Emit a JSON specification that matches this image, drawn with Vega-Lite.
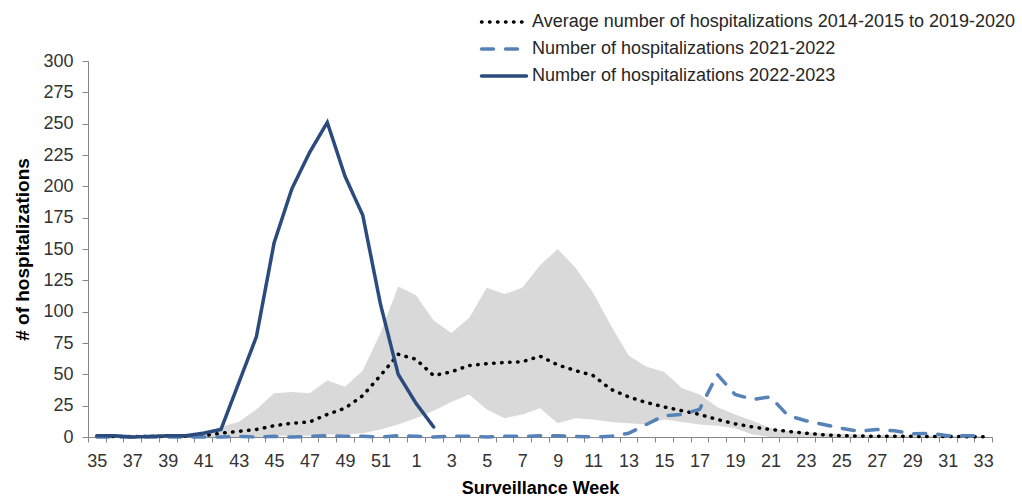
{
  "$schema": "https://vega.github.io/schema/vega-lite/v6.json",
  "width": 904,
  "height": 376,
  "autosize": {"type": "none"},
  "padding": {"left": 88, "top": 61, "right": 30, "bottom": 60},
  "background": "white",
  "config": {
    "view": {"stroke": null},
    "font": "Liberation Sans",
    "axisY": {
      "values": [0,25,50,75,100,125,150,175,200,225,250,275,300],
      "labelOverlap": false,
      "labelFontSize": 18,
      "labelColor": "#333333",
      "labelPadding": 9,
      "tickSize": 6,
      "tickColor": "#868686",
      "domainColor": "#868686",
      "grid": false
    }
  },
  "data": {"values": [
    {"week": 35, "lo": 0, "hi": 1, "avg": 0.3, "s2122": 0, "s2223": 1},
    {"week": 36, "lo": 0, "hi": 1, "avg": 0.3, "s2122": 0, "s2223": 1},
    {"week": 37, "lo": 0, "hi": 1, "avg": 0.3, "s2122": 0, "s2223": 0},
    {"week": 38, "lo": 0, "hi": 1, "avg": 0.3, "s2122": 0, "s2223": 0.5},
    {"week": 39, "lo": 0, "hi": 1, "avg": 0.5, "s2122": 0, "s2223": 1},
    {"week": 40, "lo": 0, "hi": 2, "avg": 0.5, "s2122": 0, "s2223": 1},
    {"week": 41, "lo": 0, "hi": 3, "avg": 1, "s2122": 0, "s2223": 3},
    {"week": 42, "lo": 0, "hi": 8, "avg": 3, "s2122": 0, "s2223": 6},
    {"week": 43, "lo": 0, "hi": 12, "avg": 4.5, "s2122": 0.5, "s2223": 43},
    {"week": 44, "lo": 0, "hi": 22, "avg": 6, "s2122": 0, "s2223": 80},
    {"week": 45, "lo": 1, "hi": 35, "avg": 9, "s2122": 0.5, "s2223": 155},
    {"week": 46, "lo": 1, "hi": 36, "avg": 11, "s2122": 0, "s2223": 198},
    {"week": 47, "lo": 1, "hi": 35, "avg": 12, "s2122": 0.5, "s2223": 227},
    {"week": 48, "lo": 2, "hi": 45, "avg": 18, "s2122": 1, "s2223": 251},
    {"week": 49, "lo": 2, "hi": 40, "avg": 23, "s2122": 0.5, "s2223": 208},
    {"week": 50, "lo": 3, "hi": 53, "avg": 33, "s2122": 0.5, "s2223": 177},
    {"week": 51, "lo": 6, "hi": 83, "avg": 49, "s2122": 0, "s2223": 106},
    {"week": 52, "lo": 10, "hi": 120, "avg": 66, "s2122": 1, "s2223": 50},
    {"week": 1, "lo": 15, "hi": 113, "avg": 62, "s2122": 0.5, "s2223": 27},
    {"week": 2, "lo": 21, "hi": 93, "avg": 49, "s2122": 0, "s2223": 8},
    {"week": 3, "lo": 28, "hi": 83, "avg": 52, "s2122": 0.5, "s2223": null},
    {"week": 4, "lo": 34, "hi": 95, "avg": 57, "s2122": 0.5, "s2223": null},
    {"week": 5, "lo": 22, "hi": 119, "avg": 58.5, "s2122": 0, "s2223": null},
    {"week": 6, "lo": 15, "hi": 114, "avg": 59.5, "s2122": 0.5, "s2223": null},
    {"week": 7, "lo": 18, "hi": 119, "avg": 60, "s2122": 0.5, "s2223": null},
    {"week": 8, "lo": 23, "hi": 137, "avg": 64.5, "s2122": 1, "s2223": null},
    {"week": 9, "lo": 11, "hi": 150, "avg": 57.5, "s2122": 1, "s2223": null},
    {"week": 10, "lo": 15, "hi": 135, "avg": 53, "s2122": 0.5, "s2223": null},
    {"week": 11, "lo": 14, "hi": 115, "avg": 49, "s2122": 0, "s2223": null},
    {"week": 12, "lo": 12, "hi": 89, "avg": 38, "s2122": 0.5, "s2223": null},
    {"week": 13, "lo": 11, "hi": 65, "avg": 32, "s2122": 3, "s2223": null},
    {"week": 14, "lo": 10, "hi": 56, "avg": 27.5, "s2122": 10, "s2223": null},
    {"week": 15, "lo": 14, "hi": 52, "avg": 24, "s2122": 17, "s2223": null},
    {"week": 16, "lo": 12, "hi": 39, "avg": 21, "s2122": 18, "s2223": null},
    {"week": 17, "lo": 10, "hi": 34, "avg": 18, "s2122": 22, "s2223": null},
    {"week": 18, "lo": 9, "hi": 24, "avg": 14, "s2122": 50, "s2223": null},
    {"week": 19, "lo": 7, "hi": 18, "avg": 10.5, "s2122": 34, "s2223": null},
    {"week": 20, "lo": 2, "hi": 13, "avg": 8, "s2122": 30, "s2223": null},
    {"week": 21, "lo": 0, "hi": 7, "avg": 6, "s2122": 32, "s2223": null},
    {"week": 22, "lo": 0, "hi": 5, "avg": 4.5, "s2122": 17, "s2223": null},
    {"week": 23, "lo": 0, "hi": 4, "avg": 3, "s2122": 13, "s2223": null},
    {"week": 24, "lo": 0, "hi": 3, "avg": 1.8, "s2122": 10, "s2223": null},
    {"week": 25, "lo": 0, "hi": 2.5, "avg": 1, "s2122": 7, "s2223": null},
    {"week": 26, "lo": 0, "hi": 2, "avg": 0.8, "s2122": 4.5, "s2223": null},
    {"week": 27, "lo": 0, "hi": 1.5, "avg": 0.6, "s2122": 6, "s2223": null},
    {"week": 28, "lo": 0, "hi": 1.5, "avg": 0.5, "s2122": 5, "s2223": null},
    {"week": 29, "lo": 0, "hi": 1, "avg": 0.5, "s2122": 2.5, "s2223": null},
    {"week": 30, "lo": 0, "hi": 1, "avg": 0.3, "s2122": 3, "s2223": null},
    {"week": 31, "lo": 0, "hi": 1, "avg": 0.3, "s2122": 1, "s2223": null},
    {"week": 32, "lo": 0, "hi": 1, "avg": 0.3, "s2122": 1, "s2223": null},
    {"week": 33, "lo": 0, "hi": 0.5, "avg": 0.2, "s2122": 1, "s2223": null}
  ]},
  "encoding": {
    "x": {
      "field": "week",
      "type": "ordinal",
      "sort": [35,36,37,38,39,40,41,42,43,44,45,46,47,48,49,50,51,52,1,2,3,4,5,6,7,8,9,10,11,12,13,14,15,16,17,18,19,20,21,22,23,24,25,26,27,28,29,30,31,32,33],
      "scale": {"type": "band", "paddingInner": 0, "paddingOuter": 0},
      "axis": {
        "title": "Surveillance Week",
        "titleFontSize": 18,
        "titleFontWeight": "bold",
        "titleColor": "#000000",
        "titleY": 51,
        "titleBaseline": "middle",
        "labelExpr": "datum.value % 2 == 1 ? datum.label : ''",
        "labelAngle": 0,
        "labelFontSize": 18,
        "labelColor": "#333333",
        "labelPadding": 10,
        "labelOverlap": false,
        "tickSize": 5,
        "tickColor": "#868686",
        "domainColor": "#868686",
        "tickBand": "extent",
        "grid": false
      }
    }
  },
  "layer": [
    {
      "mark": {"type": "area", "color": "#d9d9d9"},
      "encoding": {
        "y": {
          "field": "hi",
          "type": "quantitative",
          "scale": {"domain": [0, 300]},
          "axis": {
            "values": [0,25,50,75,100,125,150,175,200,225,250,275,300],
            "labelOverlap": false,
            "title": "# of hospitalizations",
            "titleFontSize": 19,
            "titleFontWeight": "bold",
            "titleColor": "#000000",
            "titleX": -66,
            "titleY": 188,
            "titleBaseline": "middle"
          }
        },
        "y2": {"field": "lo"}
      }
    },
    {
      "transform": [{"fold": ["avg", "s2122", "s2223"], "as": ["series", "value"]}],
      "mark": {"type": "line", "strokeCap": "round", "strokeWidth": 3.5},
      "encoding": {
        "y": {
          "field": "value",
          "type": "quantitative",
          "axis": {
            "values": [0,25,50,75,100,125,150,175,200,225,250,275,300],
            "labelOverlap": false,
            "title": "# of hospitalizations",
            "titleFontSize": 19,
            "titleFontWeight": "bold",
            "titleColor": "#000000",
            "titleX": -66,
            "titleY": 188,
            "titleBaseline": "middle"
          }
        },
        "color": {
          "field": "series",
          "type": "nominal",
          "scale": {"domain": ["avg", "s2122", "s2223"], "range": ["#000000", "#5682b8", "#2a4b7c"]},
          "legend": {
            "title": null,
            "orient": "none",
            "legendX": 403,
            "legendY": -52,
            "symbolType": "M-2,0H2",
            "symbolSize": 506,
            "symbolStrokeWidth": 3.5,
            "symbolFillColor": "transparent",
            "labelFontSize": 18,
            "labelColor": "#262626",
            "labelOffset": 15,
            "rowPadding": 5,
            "labelLimit": 700,
            "labelExpr": "datum.label == 'avg' ? 'Average number of hospitalizations 2014-2015 to 2019-2020' : datum.label == 's2122' ? 'Number of hospitalizations 2021-2022' : 'Number of hospitalizations 2022-2023'",
            "encode": {"symbols": {"update": {"strokeCap": {"value": "round"}}}}
          }
        },
        "strokeDash": {
          "field": "series",
          "type": "nominal",
          "scale": {"domain": ["avg", "s2122", "s2223"], "range": [[0.5, 7.5], [12, 12], [1, 0]]}
        }
      }
    }
  ]
}
